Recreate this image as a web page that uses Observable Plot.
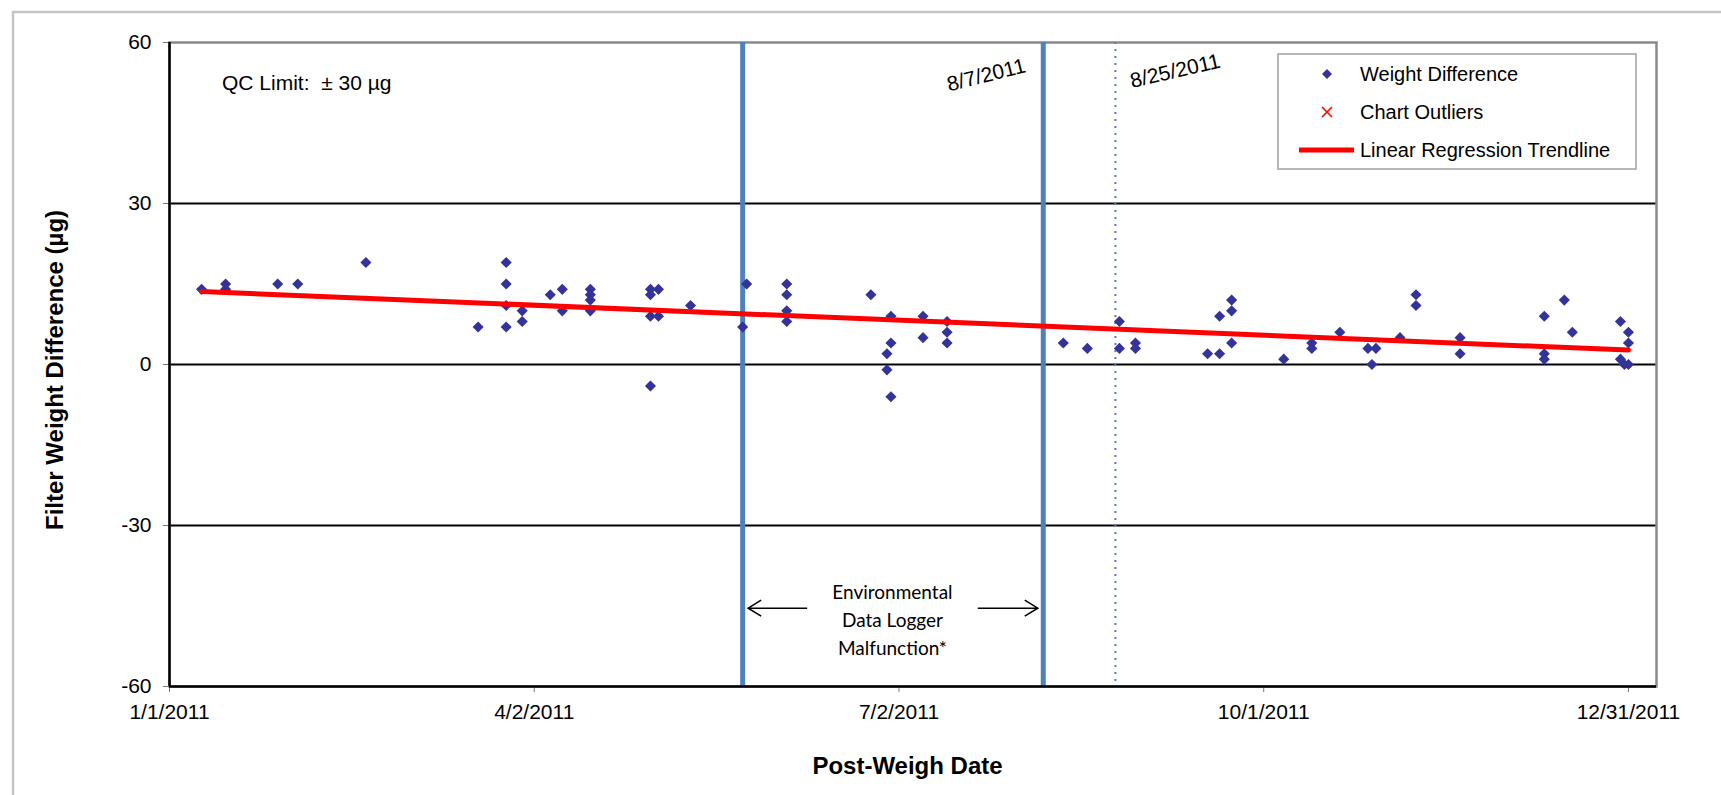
<!DOCTYPE html>
<html><head><meta charset="utf-8">
<script src="https://cdn.jsdelivr.net/npm/d3@7"></script>
<script src="https://cdn.jsdelivr.net/npm/@observablehq/plot@0.6"></script>
<style>
html,body{margin:0;padding:0;background:#fff;overflow:hidden;}
</style></head><body><div id="chart"></div>
<script>
// ---- data ----
const postWeighDates = [
  "2011-01-09","2011-01-15","2011-01-15","2011-01-28","2011-02-02","2011-02-19",
  "2011-03-19","2011-03-26","2011-03-26","2011-03-26","2011-03-26","2011-03-30","2011-03-30",
  "2011-04-06","2011-04-09","2011-04-09","2011-04-16","2011-04-16","2011-04-16","2011-04-16",
  "2011-05-01","2011-05-01","2011-05-01","2011-05-01","2011-05-03","2011-05-03","2011-05-11",
  "2011-05-24","2011-05-25","2011-06-04","2011-06-04","2011-06-04","2011-06-04",
  "2011-06-25","2011-06-29","2011-06-29","2011-06-30","2011-06-30","2011-06-30",
  "2011-07-08","2011-07-08","2011-07-14","2011-07-14","2011-07-14",
  "2011-08-12","2011-08-18","2011-08-26","2011-08-26","2011-08-30","2011-08-30",
  "2011-09-17","2011-09-20","2011-09-20","2011-09-23","2011-09-23","2011-09-23",
  "2011-10-06","2011-10-13","2011-10-13","2011-10-20","2011-10-27","2011-10-28","2011-10-29",
  "2011-11-04","2011-11-08","2011-11-08","2011-11-19","2011-11-19",
  "2011-12-10","2011-12-10","2011-12-10","2011-12-15","2011-12-17",
  "2011-12-29","2011-12-29","2011-12-30","2011-12-31","2011-12-31","2011-12-31"
];
const weightDifferences = [
  14, 15, 14, 15, 15, 19,
  7, 19, 15, 11, 7, 10, 8,
  13, 14, 10, 14, 13, 12, 10,
  14, 13, 9, -4, 14, 9, 11,
  7, 15, 15, 13, 10, 8,
  13, 2, -1, 9, 4, -6,
  9, 5, 8, 6, 4,
  4, 3, 8, 3, 4, 3,
  2, 9, 2, 12, 10, 4,
  1, 4, 3, 6, 3, 0, 3,
  5, 13, 11, 5, 2,
  9, 2, 1, 12, 6,
  8, 1, 0, 6, 4, 0
];
const yTicks = [-60, -30, 0, 30, 60];
const qcLines = [30, 0, -30];
const xTickDates = ["2011-01-01", "2011-04-02", "2011-07-02", "2011-10-01", "2011-12-31"];
const xDomain = ["2011-01-01", "2012-01-07"];
const malfunctionBounds = ["2011-05-24", "2011-08-07"];
const dottedDate = ["2011-08-25"];
const dateLabels = ["8/7/2011", "8/25/2011"];
const legendLabels = ["Weight Difference", "Chart Outliers", "Linear Regression Trendline"];
const annotationLines = ["Environmental", "Data Logger", "Malfunction*"];
const qcText = "QC Limit:  \u00b1 30 \u00b5g";
const yTitle = "Filter Weight Difference (\u00b5g)";
const xTitle = "Post-Weigh Date";

// ---- build ----
const parse = d3.utcParse("%Y-%m-%d");
const data = postWeighDates.map((d, i) => ({date: parse(d), diff: weightDifferences[i]}));
const fmt = d => `${d.getUTCMonth() + 1}/${d.getUTCDate()}/${d.getUTCFullYear()}`;
const FONT = "'Liberation Sans', Arial, sans-serif";

const chart = Plot.plot({
  width: 1721, height: 795,
  marginLeft: 169, marginRight: 65, marginTop: 42, marginBottom: 109,
  style: {fontFamily: FONT, background: "#fff", overflow: "visible", color: "#000"},
  x: {type: "utc", domain: xDomain.map(parse)},
  y: {domain: [-60, 60]},
  marks: [
    Plot.ruleY(qcLines, {stroke: "#000", strokeWidth: 2.2}),
    Plot.frame({stroke: "#8a8a8a", strokeWidth: 2.5}),
    Plot.ruleX(malfunctionBounds.map(parse), {stroke: "#4f81bd", strokeWidth: 5}),
    Plot.ruleX(dottedDate.map(parse), {stroke: "#4f81bd", strokeWidth: 2, strokeDasharray: "2,5"}),
    Plot.axisY({ticks: yTicks, tickFormat: d => String(d), tickSize: 6, tickPadding: 12, fontSize: 21, label: null}),
    Plot.axisX({ticks: xTickDates.map(parse), tickFormat: fmt, tickSize: 6, tickPadding: 12, fontSize: 21, label: null}),
    Plot.ruleY([-60], {stroke: "#000", strokeWidth: 2.5}),
    Plot.ruleX([parse(xDomain[0])], {stroke: "#000", strokeWidth: 2.5}),
    Plot.dot(data, {x: "date", y: "diff", symbol: "diamond2", fill: "#333399", r: 5}),
    Plot.linearRegressionY(data, {x: "date", y: "diff", stroke: "#ff0000", strokeWidth: 5, ci: 0})
  ]
});
document.getElementById("chart").appendChild(chart);

const svg = d3.select(chart);
svg.selectAll('g[aria-label="y-axis tick"], g[aria-label="x-axis tick"]').attr("stroke", "#777");

const sx = v => chart.scale("x").apply(v);
const sy = v => chart.scale("y").apply(v);
const x0 = sx(parse(xDomain[0])), yTop = sy(60), yBot = sy(-60);

// outer border (clipped by page)
svg.insert("rect", ":first-child").attr("x", 13).attr("y", 12).attr("width", 1800).attr("height", 900)
  .attr("fill", "none").attr("stroke", "#c4c4c4").attr("stroke-width", 2.5);

const ann = svg.append("g").attr("font-family", FONT).attr("fill", "#000");

// QC limit text
ann.append("text").attr("x", x0 + 53).attr("y", yTop + 41).attr("dy", "0.35em")
  .attr("text-anchor", "start").attr("font-size", 21).text(qcText);

// axis titles
ann.append("text").attr("transform", `translate(55,${(yTop + yBot) / 2 + 6}) rotate(-90)`)
  .attr("text-anchor", "middle").attr("dy", "0.35em").attr("font-size", 24).attr("font-weight", "bold")
  .text(yTitle);
ann.append("text").attr("x", (x0 + sx(parse(xDomain[1]))) / 2 - 5).attr("y", yBot + 88)
  .attr("text-anchor", "middle").attr("font-size", 24).attr("font-weight", "bold").text(xTitle);

// rotated date labels
const xA = sx(parse(malfunctionBounds[1])), xB = sx(parse(dottedDate[0]));
ann.append("text").attr("transform", `translate(${xA - 16},${yTop + 30}) rotate(-14)`)
  .attr("text-anchor", "end").attr("font-size", 21).text(dateLabels[0]);
ann.append("text").attr("transform", `translate(${xB + 17},${yTop + 46}) rotate(-13)`)
  .attr("text-anchor", "start").attr("font-size", 21).text(dateLabels[1]);

// malfunction annotation
const xL = sx(parse(malfunctionBounds[0]));
const xMid = (xL + xA) / 2;
const yAnn = sy(-45.5);
annotationLines.forEach((t, i) => {
  ann.append("text").attr("x", xMid).attr("y", yAnn - 16 + i * 28).attr("dy", "0.35em")
    .attr("text-anchor", "middle").attr("font-family", "Lato, 'Open Sans', sans-serif")
    .attr("font-size", 19).text(t);
});
const arrowY = yAnn;
const arrowG = ann.append("g").attr("fill", "none").attr("stroke", "#000").attr("stroke-width", 1.6);
{
  const tip = xL + 6, tail = xL + 65;
  arrowG.append("path").attr("d", `M${tail},${arrowY}L${tip},${arrowY}M${tip + 13},${arrowY - 8}L${tip},${arrowY}L${tip + 13},${arrowY + 8}`);
  const tip2 = xA - 5, tail2 = xA - 65;
  arrowG.append("path").attr("d", `M${tail2},${arrowY}L${tip2},${arrowY}M${tip2 - 13},${arrowY - 8}L${tip2},${arrowY}L${tip2 - 13},${arrowY + 8}`);
}

// legend
const lg = svg.append("g").attr("font-family", FONT).attr("text-anchor", "start");
lg.append("rect").attr("x", 1278).attr("y", 54).attr("width", 358).attr("height", 115)
  .attr("fill", "#fff").attr("stroke", "#a0a0a0").attr("stroke-width", 1.5);
const rowY = [74, 112, 150];
lg.append("path").attr("d", d3.symbol(d3.symbolDiamond2, Math.PI * 4.5 * 4.5)())
  .attr("transform", `translate(1327,${rowY[0]})`).attr("fill", "#333399");
lg.append("path").attr("d", `M${1327 - 5},${rowY[1] - 5}L${1327 + 5},${rowY[1] + 5}M${1327 + 5},${rowY[1] - 5}L${1327 - 5},${rowY[1] + 5}`)
  .attr("stroke", "#ff0000").attr("stroke-width", 1.6);
lg.append("line").attr("x1", 1299).attr("x2", 1354).attr("y1", rowY[2]).attr("y2", rowY[2])
  .attr("stroke", "#ff0000").attr("stroke-width", 5);
legendLabels.forEach((t, i) => {
  lg.append("text").attr("x", 1360).attr("y", rowY[i]).attr("dy", "0.35em")
    .attr("text-anchor", "start").attr("font-size", 20).text(t);
});
</script></body></html>
